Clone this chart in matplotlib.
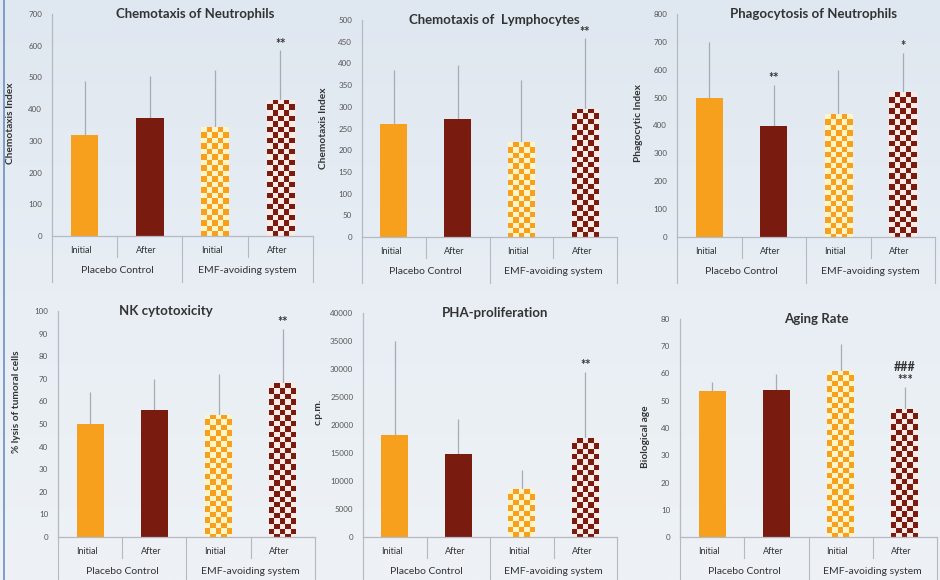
import numpy as np
import matplotlib
matplotlib.use('Agg')
import matplotlib.pyplot as plt
from matplotlib.transforms import blended_transform_factory
from matplotlib.colors import ListedColormap, LinearSegmentedColormap

plt.rcParams['font.family'] = ['Lato', 'DejaVu Sans']

# ---------------- data ----------------
categories = ['Initial', 'After', 'Initial', 'After']
groups = ['Placebo Control', 'EMF-avoiding system']

titles = ['Chemotaxis of Neutrophils', 'Chemotaxis of  Lymphocytes',
          'Phagocytosis of Neutrophils', 'NK cytotoxicity',
          'PHA-proliferation', 'Aging Rate']
ylabels = ['Chemotaxis Index', 'Chemotaxis Index', 'Phagocytic Index',
           '% lysis of tumoral cells', 'c.p.m.', 'Biological age']

neutro_chemo = [320, 372, 343, 430]
neutro_chemo_err_top = [490, 505, 525, 585]
lympho_chemo = [260, 272, 218, 295]
lympho_chemo_err_top = [385, 397, 362, 458]
phago = [497, 398, 440, 520]
phago_err_top = [700, 545, 600, 660]
nk = [50, 56, 54, 68]
nk_err_top = [64, 70, 72, 92]
pha = [18200, 14800, 8500, 17600]
pha_err_top = [35000, 21000, 12000, 29500]
aging = [53.5, 54, 61, 47]
aging_err_top = [57, 60, 71, 55]

marks_neutro = ['', '', '', '**']
marks_lympho = ['', '', '', '**']
marks_phago = ['', '**', '', '*']
marks_nk = ['', '', '', '**']
marks_pha = ['', '', '', '**']
marks_aging = ['', '', '', '###\n***']

y_max = [700, 500, 800, 100, 40000, 80]
y_step = [100, 50, 100, 10, 5000, 10]

values = [neutro_chemo, lympho_chemo, phago, nk, pha, aging]
err_tops = [neutro_chemo_err_top, lympho_chemo_err_top, phago_err_top,
            nk_err_top, pha_err_top, aging_err_top]
marks = [marks_neutro, marks_lympho, marks_phago, marks_nk, marks_pha, marks_aging]

# ---------------- style ----------------
W, H = 940, 580
ORANGE = '#F6A01E'
DARKRED = '#7A1B10'
ORANGE_LIGHT = '#FFF3C8'
RED_LIGHT = '#FBEAE6'
TXT = '#333333'
AXC = '#B4B9C2'
ERRC = '#A8ABB3'

# axes rectangles in pixels: (x_left, x_right, y_top, y_bottom)
rects = [(52, 313, 14, 236), (362, 617, 20, 237), (677, 935, 14, 237),
         (58, 315, 311, 537), (363, 617, 313, 537), (680, 937, 319, 537)]
title_x = [0.55, 0.52, 0.53, 0.42, 0.52, 0.53]
ylabel_px = [37, 34, 34, 37, 40, 30]
ylabel_y = [0.51, 0.50, 0.51, 0.60, 0.56, 0.46]

fig = plt.figure(figsize=(W / 100, H / 100), dpi=100)

# background gradient
bg = fig.add_axes([0, 0, 1, 1], zorder=-10)
grad = np.linspace(0, 1, 256).reshape(-1, 1)
cm_bg = LinearSegmentedColormap.from_list('bg', ['#DFE7F0', '#E8EEF4', '#EEF2F6'])
bg.imshow(grad, aspect='auto', cmap=cm_bg, extent=[0, 1, 0, 1], origin='upper')
bg.plot([3.5 / W, 3.5 / W], [0, 1], color='#7E9CCB', lw=1.4)
bg.set_xlim(0, 1)
bg.set_ylim(0, 1)
bg.axis('off')

x = np.arange(len(categories))
bw = 0.42
solid_colors = [ORANGE, DARKRED]
check_cols = [(ORANGE, ORANGE_LIGHT), (DARKRED, RED_LIGHT)]
CELL_PX = 5.8

for i in range(6):
    xl, xr, yt, yb = rects[i]
    ax_w, ax_h = xr - xl, yb - yt
    ax = fig.add_axes([xl / W, 1 - yb / H, ax_w / W, ax_h / H])
    ax.set_facecolor('none')
    ymax = y_max[i]
    ax.set_xlim(-0.5, len(categories) - 0.5)
    ax.set_ylim(0, ymax)

    vals = values[i]
    tops = err_tops[i]

    # error bars (upper only)
    ax.vlines(x, vals, tops, color=ERRC, lw=0.9, zorder=1)

    for j in range(4):
        if j < 2:
            ax.bar(x[j], vals[j], bw, color=solid_colors[j], zorder=2, linewidth=0)
        else:
            c_dark, c_light = check_cols[j - 2]
            patch = ax.bar(x[j], vals[j], bw, color='none', zorder=2, linewidth=0)[0]
            w_px = bw * ax_w / len(categories)
            h_px = vals[j] * ax_h / ymax
            ncol = max(1, int(round(w_px / CELL_PX)))
            cell = w_px / ncol
            nrow = int(np.ceil(h_px / cell))
            grid = (np.add.outer(np.arange(nrow), np.arange(ncol)) % 2)
            y_ext = nrow * cell * ymax / ax_h
            im = ax.imshow(grid, cmap=ListedColormap([c_light, c_dark]),
                           extent=[x[j] - bw / 2, x[j] + bw / 2, vals[j] - y_ext, vals[j]],
                           origin='upper', aspect='auto', interpolation='nearest',
                           zorder=2, vmin=0, vmax=1)
            im.set_clip_path(patch)

    # significance marks
    for j in range(4):
        if marks[i][j]:
            ax.annotate(marks[i][j], (x[j], tops[j]), xytext=(0, 0.5),
                        textcoords='offset points', ha='center', va='bottom',
                        fontsize=9, fontweight='bold', color=TXT,
                        linespacing=1.15)

    ax.set_xlim(-0.5, len(categories) - 0.5)
    ax.set_ylim(0, ymax)

    # axes styling
    for s in ['top', 'right']:
        ax.spines[s].set_visible(False)
    ax.spines['left'].set_color(AXC)
    ax.spines['bottom'].set_color(AXC)
    ax.spines['left'].set_linewidth(0.9)
    ax.spines['bottom'].set_linewidth(0.9)
    ax.set_yticks(np.arange(0, ymax + y_step[i] / 2, y_step[i]))
    ax.tick_params(axis='y', length=0, pad=7, labelsize=5.8, labelcolor='#555555')
    ax.set_xticks([])

    ax.set_ylabel(ylabels[i], fontsize=7.3, fontweight='bold', color=TXT)
    ax.yaxis.set_label_coords(-ylabel_px[i] / ax_w, ylabel_y[i])

    ax.text(title_x[i], 1.0, titles[i], transform=ax.transAxes, ha='center',
            va='center', fontsize=9.5, fontweight='bold', color=TXT)

    # multi-level category axis
    tr = blended_transform_factory(ax.transData, ax.transAxes)
    for j, c in enumerate(categories):
        ax.text(x[j] - 0.05, -14.5 / ax_h, c, transform=tr, ha='center', va='center',
                fontsize=6.5, color=TXT)
    for g, gname in enumerate(groups):
        ax.text(2 * g + 0.5, -35 / ax_h, gname, transform=tr, ha='center', va='center',
                fontsize=7.5, color=TXT)
    for b in [0.5, 2.5]:
        ax.plot([b, b], [0, -21 / ax_h], transform=tr, color=AXC, lw=0.8, clip_on=False)
    for b in [-0.5, 1.5, 3.5]:
        ax.plot([b, b], [0, -46 / ax_h], transform=tr, color=AXC, lw=0.8, clip_on=False)

fig.savefig('out.png', dpi=100)
